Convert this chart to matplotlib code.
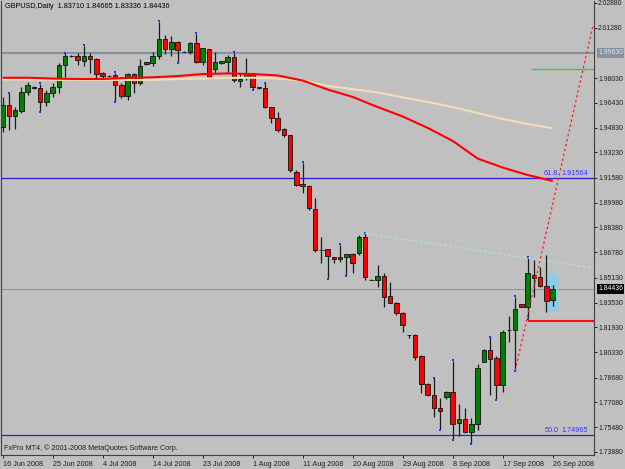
import matplotlib
matplotlib.use("Agg")
import matplotlib.pyplot as plt
from matplotlib.patches import Rectangle

plt.rcParams['font.family'] = ['Liberation Sans', 'DejaVu Sans']

# ---------------- data ----------------
opens = [1.9489, 1.9629, 1.9560, 1.9593, 1.9715, 1.9743, 1.9741, 1.9648, 1.9704, 1.9743,
         1.9887, 1.9946, 1.9946, 1.9915, 1.9946, 1.9926, 1.9834, 1.9817, 1.9823, 1.9756,
         1.9687, 1.9827, 1.9773, 1.9892, 1.9903, 1.9948, 2.0053, 1.9989, 2.0038, 1.9974,
         1.9974, 2.0032, 1.9909, 1.9989, 1.9860, 1.9898, 1.9909, 1.9937, 1.9784, 1.9812,
         1.9834, 1.9745, 1.9737, 1.9614, 1.9543, 1.9472, 1.9435, 1.9198, 1.9119, 1.9106,
         1.8957, 1.8695, 1.8697, 1.8645, 1.8632, 1.8645, 1.8667, 1.8671, 1.8774, 1.8501,
         1.8499, 1.8525, 1.8395, 1.8352, 1.8288, 1.8143, 1.8143, 1.8008, 1.7827, 1.7756,
         1.7674, 1.7745, 1.7775, 1.7573, 1.7599, 1.7519, 1.7569, 1.7971, 1.8047, 1.7993,
         1.7820, 1.8174, 1.8176, 1.8344, 1.8326, 1.8531, 1.8516, 1.8460, 1.83710]
highs = [1.9683, 1.9704, 1.9618, 1.9743, 1.9780, 1.9752, 1.9763, 1.9726, 1.9769, 1.9898,
         1.9963, 1.9950, 1.9963, 2.0010, 1.9967, 1.9931, 1.9844, 1.9820, 1.9838, 1.9769,
         1.9838, 1.9838, 1.9924, 1.9909, 1.9974, 2.0166, 2.0081, 2.0075, 2.0040, 1.9976,
         2.0038, 2.0088, 1.9997, 1.9992, 1.9974, 1.9916, 1.9952, 1.9967, 1.9834, 1.9931,
         1.9838, 1.9747, 1.9769, 1.9618, 1.9586, 1.9479, 1.9437, 1.9209, 1.9257, 1.9112,
         1.9026, 1.8779, 1.8699, 1.8650, 1.8725, 1.8669, 1.8671, 1.8790, 1.8800, 1.8503,
         1.8596, 1.8542, 1.8488, 1.8359, 1.8294, 1.8145, 1.8150, 1.8014, 1.7836, 1.7863,
         1.7734, 1.7784, 1.7978, 1.7698, 1.7670, 1.7605, 1.7956, 1.8051, 1.8128, 1.8008,
         1.8176, 1.8266, 1.8391, 1.8346, 1.8639, 1.8628, 1.8585, 1.8660, 1.84665]
lows = [1.9457, 1.9468, 1.9472, 1.9575, 1.9694, 1.9735, 1.9586, 1.9623, 1.9683, 1.9709,
        1.9812, 1.9940, 1.9887, 1.9881, 1.9838, 1.9801, 1.9795, 1.9812, 1.9651, 1.9672,
        1.9661, 1.9709, 1.9758, 1.9887, 1.9881, 1.9924, 1.9959, 1.9946, 1.9903, 1.9970,
        1.9959, 1.9898, 1.9887, 1.9808, 1.9834, 1.9895, 1.9834, 1.9780, 1.9743, 1.9791,
        1.9730, 1.9735, 1.9608, 1.9511, 1.9457, 1.9425, 1.9198, 1.9106, 1.9059, 1.8951,
        1.8682, 1.8611, 1.8510, 1.8606, 1.8617, 1.8531, 1.8542, 1.8660, 1.8499, 1.8497,
        1.8456, 1.8322, 1.8348, 1.8273, 1.8165, 1.8122, 1.7982, 1.7771, 1.7749, 1.7616,
        1.7534, 1.7728, 1.7470, 1.7491, 1.7508, 1.7444, 1.7530, 1.7969, 1.7756, 1.7728,
        1.7777, 1.8100, 1.7913, 1.8324, 1.8251, 1.8391, 1.8456, 1.8294, 1.83336]
closes = [1.9629, 1.9560, 1.9597, 1.9715, 1.9758, 1.9741, 1.9648, 1.9704, 1.9748, 1.9887,
          1.9946, 1.9944, 1.9920, 1.9946, 1.9924, 1.9827, 1.9816, 1.9815, 1.9756, 1.9687,
          1.9827, 1.9773, 1.9881, 1.9905, 1.9948, 2.0053, 1.9989, 2.0038, 1.9984, 1.9972,
          2.0032, 1.9909, 1.9995, 1.9812, 1.9909, 1.9913, 1.9937, 1.9791, 1.9799, 1.9834,
          1.9743, 1.9737, 1.9618, 1.9543, 1.9468, 1.9435, 1.9209, 1.9112, 1.9108, 1.8962,
          1.8693, 1.8693, 1.8654, 1.8632, 1.8645, 1.8667, 1.8611, 1.8774, 1.8516, 1.8499,
          1.8525, 1.8391, 1.8352, 1.8283, 1.8208, 1.8141, 1.8003, 1.7827, 1.7756, 1.7674,
          1.7655, 1.7775, 1.7569, 1.7599, 1.7519, 1.7569, 1.7928, 1.8047, 1.7986, 1.7820,
          1.8165, 1.8176, 1.8309, 1.8326, 1.8542, 1.8514, 1.8460, 1.8365, 1.84436]

# moving averages read every 4th bar
ma_bars = [0, 4, 8, 12, 16, 20, 24, 28, 32, 36, 40, 44, 48, 52, 56, 60, 64, 68, 72, 76, 80, 84, 88]
ma_red = [1.9805, 1.9805, 1.9800, 1.9797, 1.9797, 1.9804, 1.9808, 1.9816, 1.9829, 1.9833,
          1.9829, 1.9820, 1.9787, 1.9729, 1.9681, 1.9616, 1.9555, 1.9481, 1.9397, 1.9283,
          1.9225, 1.9177, 1.9138]
ma_wheat = [1.9795, 1.9794, 1.9791, 1.9791, 1.9791, 1.9791, 1.9791, 1.9797, 1.9800, 1.9804,
            1.9805, 1.9800, 1.9787, 1.9752, 1.9732, 1.9710, 1.9678, 1.9649, 1.9616, 1.9577,
            1.9539, 1.9506, 1.9479]

up_fractals = [1, 6, 10, 13, 18, 25, 31, 37, 42, 48, 54, 58, 69, 72, 78, 82, 84]
down_fractals = [6, 18, 28, 33, 40, 52, 55, 70, 72, 75, 79, 82, 84]

date_bars = [0, 8, 16, 24, 32, 40, 48, 56, 64, 72, 80, 88]
date_labels = ['16 Jun 2008', '25 Jun 2008', '4 Jul 2008', '14 Jul 2008', '23 Jul 2008',
               '1 Aug 2008', '11 Aug 2008', '20 Aug 2008', '29 Aug 2008', '8 Sep 2008',
               '17 Sep 2008', '26 Sep 2008']
price_ticks = [2.02880, 2.01280, 1.98030, 1.96430, 1.94830, 1.93230, 1.91580, 1.89980,
               1.88380, 1.86780, 1.85130, 1.83530, 1.81930, 1.80330, 1.78680, 1.77080,
               1.75480, 1.73880]

level_grey = 1.99630
bid = 1.84436
fib_618 = 1.91564
fib_500 = 1.74965
green_level = 1.9862
red_level = 1.8234
trend_fib = ([82, 94.45], [1.7913, 2.0146])
trend_cyan = ([58, 94.45], [1.8800, 1.8576])
box = (87.2, 88.9, 1.8298, 1.8537)

# ---------------- figure ----------------
W, H = 625, 469
BG = '#c0c0c0'
fig = plt.figure(figsize=(W / 100, H / 100), dpi=100)
fig.patch.set_facecolor(BG)
L, R, T, B = 1, 594, 1, 455
ax = fig.add_axes([L / W, 1 - B / H, (R - L) / W, (B - T) / H])
ax.set_facecolor(BG)
ax.set_xlim(-0.272, 94.61)
ax.set_ylim(1.73681, 2.03009)

FS = 5.2
FSY = 4.95

def fx(x):
    return x / W

def fy(y):
    return 1 - y / H

# horizontal levels
ax.axhline(level_grey, color='#8893a0', lw=1.6, zorder=1)
ax.axhline(bid, color='#8a96a4', lw=0.8, zorder=1)
ax.axhline(fib_618, color='#2222c8', lw=0.9, zorder=1)
ax.axhline(fib_500, color='#2222e0', lw=0.9, zorder=1)
ax.hlines(green_level, 84.5, 94.61, color='#3cc83c', lw=1.0, zorder=1)
ax.hlines(red_level, 84.0, 94.61, color='#ff1010', lw=1.5, zorder=1)

# rectangle
ax.add_patch(Rectangle((box[0], box[2]), box[1] - box[0], box[3] - box[2],
                       facecolor='#87ceeb', edgecolor='none', zorder=1.5))

# candles
n = len(opens)
xs = list(range(n))
ax.vlines(xs, lows, highs, color='#1a1a1a', lw=0.9, zorder=2)
for i in xs:
    o, c = opens[i], closes[i]
    col = '#008000' if c > o else '#ff0000'
    lo = min(o, c)
    h = abs(c - o)
    ax.add_patch(Rectangle((i - 0.36, lo), 0.72, max(h, 0.00005), facecolor=col,
                           edgecolor='#101010', lw=0.6, zorder=3))

# fractals
ax.scatter(up_fractals, [highs[i] + 0.0005 for i in up_fractals], s=2.0, color='#3030ff',
           marker='s', zorder=4, linewidths=0)
ax.scatter(down_fractals, [lows[i] - 0.0005 for i in down_fractals], s=2.0, color='#3030ff',
           marker='s', zorder=4, linewidths=0)

# moving averages
ax.plot(ma_bars, ma_wheat, color='#f5dcb4', lw=1.5, zorder=4, solid_capstyle='butt')
ax.plot(ma_bars, ma_red, color='#ff0000', lw=1.5, zorder=4, solid_capstyle='butt')

# trend lines
ax.plot(trend_fib[0], trend_fib[1], color='#ff2020', lw=0.9, ls=(0, (2, 2)), zorder=4)
ax.plot(trend_cyan[0], trend_cyan[1], color='#a8e4ee', lw=0.9, ls=(0, (2, 2)), zorder=4)

# fib labels
blue = '#3434ff'
ax.text(93.6, fib_618 + 0.0007, '1.91564', color=blue, fontsize=FS, ha='right', va='bottom')
ax.text(88.9, fib_618 + 0.0007, '61.8', color=blue, fontsize=FS, ha='right', va='bottom')
ax.text(93.6, fib_500 + 0.0007, '1.74965', color=blue, fontsize=FS, ha='right', va='bottom')
ax.text(88.9, fib_500 + 0.0007, '50.0', color=blue, fontsize=FS, ha='right', va='bottom')

# axes styling
ax.spines['top'].set_visible(False)
for s in ['left', 'right', 'bottom']:
    ax.spines[s].set_color('#404040')
    ax.spines[s].set_linewidth(0.8)
ax.yaxis.tick_right()
ax.set_yticks(price_ticks)
ax.set_yticklabels([f'{v:.5f}' for v in price_ticks])
ax.tick_params(axis='y', direction='out', length=2.0, width=0.7, colors='#202020',
               labelsize=FSY, pad=1.0)
ax.set_xticks(date_bars)
ax.set_xticklabels(date_labels, ha='left')
ax.tick_params(axis='x', direction='out', length=2.5, width=0.7, colors='#202020',
               labelsize=FS, pad=1.5)

# highlighted axis labels
fig.text(fx(598), fy(53), '1.99630', fontsize=FSY, color='#dde2e8', va='center', ha='left',
         bbox=dict(boxstyle='square,pad=0.2', facecolor='#8893a0', edgecolor='none'))
fig.text(fx(598), fy(289), '1.84436', fontsize=FSY, color='white', va='center', ha='left',
         bbox=dict(boxstyle='square,pad=0.2', facecolor='black', edgecolor='none'))

# header / footer text
fig.text(fx(5), fy(7), 'GBPUSD,Daily  1.83710 1.84665 1.83336 1.84436', fontsize=FS,
         color='black', va='center', ha='left')
fig.text(fx(4), fy(448), 'FxPro MT4, © 2001-2008 MetaQuotes Software Corp.', fontsize=FS,
         color='#202020', va='center', ha='left')

fig.savefig('out.png', dpi=100, facecolor=BG)
